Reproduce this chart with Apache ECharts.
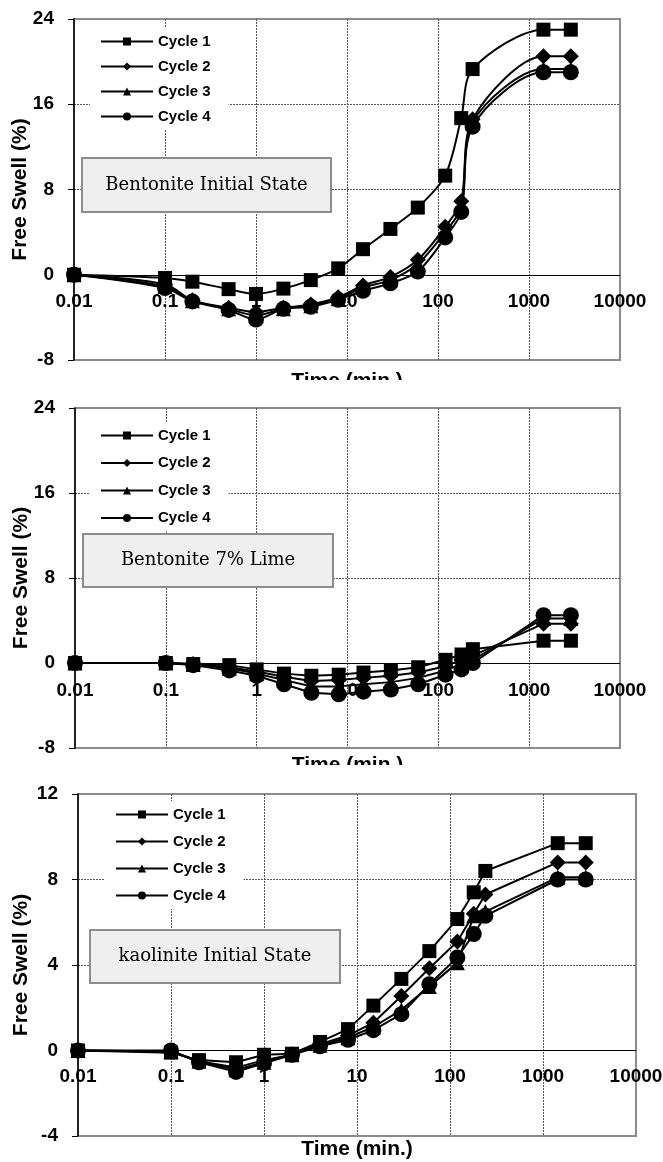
<!DOCTYPE html>
<html><head><meta charset="utf-8">
<script src="https://cdn.jsdelivr.net/npm/echarts@6/dist/echarts.min.js"></script>
<style>
html,body{margin:0;padding:0;background:#fff;width:663px;height:1162px;overflow:hidden}
.p{position:absolute;left:0;width:663px}
</style></head><body>
<div id="c1" class="p" style="top:0;height:380px"></div>
<div id="c2" class="p" style="top:380px;height:385px"></div>
<div id="c3" class="p" style="top:765px;height:397px"></div>
<script>
// ---- data ----
const times = [0.01, 0.1, 0.2, 0.5, 1, 2, 4, 8, 15, 30, 60, 120, 180, 240, 1440, 2880];
const xTickLabels = ['0.01', '0.1', '1', '10', '100', '1000', '10000'];
const seriesNames = ['Cycle 1', 'Cycle 2', 'Cycle 3', 'Cycle 4'];
const panelTitles = ['Bentonite Initial State', 'Bentonite 7% Lime', 'kaolinite Initial State'];
const xTitle = 'Time (min.)';
const yTitle = 'Free Swell (%)';

const bentInit1 = [0, -0.3, -0.65, -1.35, -1.8, -1.3, -0.5, 0.6, 2.4, 4.3, 6.3, 9.3, 14.7, 19.3, 23.0, 23.0];
const bentInit2 = [0, -0.9, -2.4, -3.1, -3.5, -3.1, -2.8, -2.1, -1.0, -0.2, 1.4, 4.5, 6.9, 14.6, 20.5, 20.5];
const bentInit3 = [0, -1.1, -2.45, -3.2, -3.8, -3.2, -2.9, -2.25, -1.2, -0.5, 1.0, 4.0, 6.3, 14.3, 19.3, 19.3];
const bentInit4 = [0, -1.25, -2.5, -3.3, -4.2, -3.2, -3.0, -2.35, -1.5, -0.8, 0.3, 3.5, 5.9, 13.9, 19.0, 19.0];

const bentLime1 = [0, 0, -0.1, -0.2, -0.6, -1.0, -1.2, -1.1, -0.9, -0.7, -0.4, 0.3, 0.8, 1.3, 2.1, 2.1];
const bentLime2 = [0, 0, -0.1, -0.4, -0.8, -1.3, -1.7, -1.6, -1.4, -1.2, -0.9, -0.3, 0.3, 0.7, 3.7, 3.7];
const bentLime3 = [0, 0, -0.15, -0.5, -1.0, -1.6, -2.2, -2.2, -2.0, -1.8, -1.4, -0.7, -0.1, 0.3, 4.2, 4.2];
const bentLime4 = [0, 0, -0.2, -0.7, -1.2, -2.0, -2.8, -2.95, -2.7, -2.5, -2.0, -1.1, -0.6, 0.0, 4.5, 4.5];

const kaolInit1 = [0, -0.1, -0.45, -0.55, -0.2, -0.15, 0.4, 1.0, 2.1, 3.35, 4.65, 6.15, 7.4, 8.4, 9.7, 9.7];
const kaolInit2 = [0, -0.05, -0.5, -0.8, -0.45, -0.2, 0.3, 0.7, 1.3, 2.55, 3.85, 5.1, 6.4, 7.3, 8.8, 8.8];
const kaolInit3 = [0, -0.05, -0.5, -0.9, -0.55, -0.2, 0.25, 0.6, 1.1, 1.9, 3.0, 4.1, 6.3, 6.5, 8.1, 8.1];
const kaolInit4 = [0, 0, -0.55, -1.0, -0.6, -0.2, 0.2, 0.5, 0.95, 1.7, 3.1, 4.35, 5.45, 6.3, 8.0, 8.0];

// ---- styling ----
const SANS = '"Liberation Sans", Arial, sans-serif';
const SERIF = '"DejaVu Serif", serif';
const symbols = ['rect', 'diamond', 'triangle', 'circle'];
const symbolSizes = [14, 16, 15, 16];
const gridLine = { color: '#555', type: [2, 1], width: 1 };

function makeOption(cfg) {
  const series = cfg.values.map((vals, k) => ({
    type: 'line',
    name: seriesNames[k],
    data: times.map((t, i) => [t, vals[i]]),
    symbol: symbols[k],
    symbolSize: symbolSizes[k],
    smooth: cfg.smooth,
    lineStyle: { color: '#000', width: 2 },
    itemStyle: { color: '#000' },
    z: 3 + k
  }));
  // zero line (the x axis of the original crosses at y = 0)
  series[0].markLine = {
    silent: true, symbol: 'none', animation: false, label: { show: false },
    lineStyle: { color: '#000', width: 1, type: 'solid' },
    emphasis: { disabled: true },
    data: [{ yAxis: 0 }]
  };
  return {
    animation: false,
    backgroundColor: '#fff',
    grid: { left: cfg.grid[0], top: cfg.grid[1], width: cfg.grid[2], height: cfg.grid[3],
            show: true, borderColor: '#8c8c8c', borderWidth: 2, backgroundColor: 'transparent',
            containLabel: false, outerBoundsMode: 'none' },
    xAxis: {
      type: 'log', logBase: 10, min: 0.01, max: 10000, position: 'bottom',
      axisLine: { show: false, onZero: false },
      axisTick: { show: false },
      axisLabel: { fontSize: 19, fontWeight: 'bold', color: '#000', fontFamily: SANS, margin: cfg.xLabelMargin,
        formatter: v => xTickLabels[Math.round(Math.log10(v)) + 2] },
      splitLine: { show: true, showMinLine: false, showMaxLine: false, lineStyle: gridLine },
      minorTick: { show: false },
      name: xTitle, nameLocation: 'middle', nameGap: cfg.xNameGap, nameMoveOverlap: false,
      nameTextStyle: { fontSize: 21, fontWeight: 'bold', color: '#000', fontFamily: SANS }
    },
    yAxis: {
      type: 'value', min: cfg.yMin, max: cfg.yMax, interval: cfg.yInt,
      axisLine: { show: true, onZero: false, lineStyle: { color: '#000', width: 1.5 } },
      axisTick: { show: true, length: 6, lineStyle: { color: '#000' } },
      axisLabel: { fontSize: 19, fontWeight: 'bold', color: '#000', fontFamily: SANS, margin: 20 },
      splitLine: { show: true, showMinLine: false, showMaxLine: false, lineStyle: gridLine },
      name: yTitle, nameLocation: 'middle', nameGap: cfg.yNameGap, nameMoveOverlap: false,
      nameTextStyle: { fontSize: 21, fontWeight: 'bold', color: '#000', fontFamily: SANS }
    },
    legend: {
      data: seriesNames, orient: 'vertical', left: cfg.legend[0], top: cfg.legend[1],
      itemWidth: 52, itemHeight: 10, itemGap: cfg.legend[2],
      padding: [6, 18, 6, 10], backgroundColor: '#fff',
      textStyle: { fontSize: 15, fontWeight: 'bold', color: '#000', fontFamily: SANS }
    },
    graphic: [{
      type: 'rect', z: 10, x: cfg.box[0], y: cfg.box[1],
      shape: { x: 0, y: 0, width: cfg.box[2], height: cfg.box[3] },
      style: { fill: '#efefef', stroke: '#8c8c8c', lineWidth: 2 }
    }, {
      type: 'text', z: 11, x: cfg.box[0] + cfg.box[2] / 2, y: cfg.box[1] + cfg.box[3] / 2,
      style: { text: cfg.title, textAlign: 'center', textVerticalAlign: 'middle',
               font: '18px ' + SERIF, fill: '#000' }
    }],
    series
  };
}

const cfgs = [
  { el: 'c1', values: [bentInit1, bentInit2, bentInit3, bentInit4], title: panelTitles[0],
    yMin: -8, yMax: 24, yInt: 8, grid: [74, 19, 546, 341], smooth: 0.3,
    legend: [90, 28, 10], box: [82, 158, 249, 54], xNameGap: 11, xLabelMargin: -68, yNameGap: 43 },
  { el: 'c2', values: [bentLime1, bentLime2, bentLime3, bentLime4], title: panelTitles[1],
    yMin: -8, yMax: 24, yInt: 8, grid: [75, 28, 545, 340], smooth: false,
    legend: [90, 42, 12.5], box: [83, 154, 250, 53], xNameGap: 7, xLabelMargin: -67, yNameGap: 43 },
  { el: 'c3', values: [kaolInit1, kaolInit2, kaolInit3, kaolInit4], title: panelTitles[2],
    yMin: -4, yMax: 12, yInt: 4, grid: [78, 29, 558, 342], smooth: false,
    legend: [105, 36, 12], box: [90, 165, 250, 53], xNameGap: 3, xLabelMargin: -69, yNameGap: 46 }
];

cfgs.forEach(c => {
  const chart = echarts.init(document.getElementById(c.el), null, { renderer: 'canvas' });
  chart.setOption(makeOption(c));
});
</script>
</body></html>
